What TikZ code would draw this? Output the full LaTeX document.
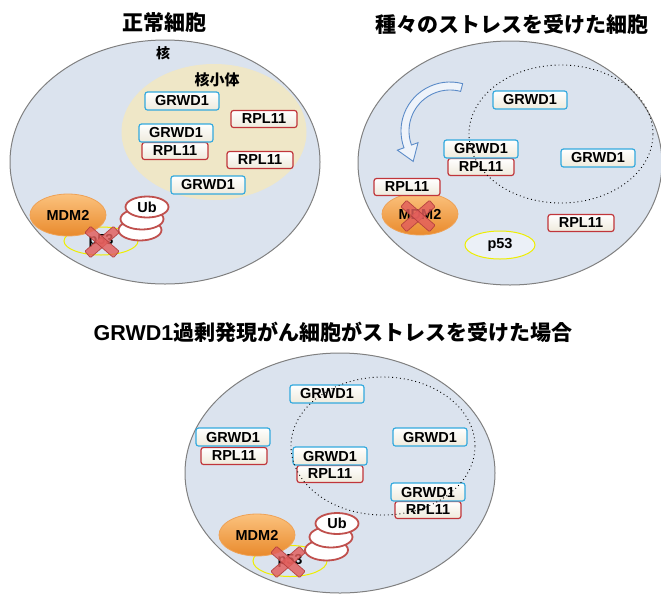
\documentclass[tikz,border=0pt]{standalone}
\usepackage{fontspec}
\setmainfont{Liberation Sans}
\newfontfamily\cjk{Noto Sans CJK JP}
\usetikzlibrary{shapes.geometric,calc}
\definecolor{cellfill}{HTML}{DBE3EE}
\definecolor{cellborder}{HTML}{808080}
\definecolor{nucfill}{HTML}{EFE7C7}
\definecolor{gboxdraw}{HTML}{33A9DE}
\definecolor{rboxdraw}{HTML}{C0353A}
\definecolor{boxbot}{HTML}{EEEADC}
\definecolor{mdmtop}{HTML}{FBC27E}
\definecolor{mdmbot}{HTML}{E98A2C}
\definecolor{mdmdraw}{HTML}{EFA256}
\definecolor{p53draw}{HTML}{EEEE00}
\definecolor{p53fill}{HTML}{EBF0F7}
\definecolor{ubdraw}{HTML}{C0504D}
\definecolor{xfill}{HTML}{E25E5C}
\definecolor{xdraw}{HTML}{B03C3C}
\definecolor{arrowblue}{HTML}{5B8BC8}
\definecolor{arrowfill}{HTML}{EEF3FA}
\begin{document}
\begin{tikzpicture}[x=1pt,y=-1pt,
  bf/.style={font=\fontsize{14.5}{15}\selectfont\bfseries},
  cell/.style={ellipse, draw=cellborder, fill=cellfill, line width=1pt, inner sep=0pt},
  nucl/.style={ellipse, fill=nucfill, draw=none, inner sep=0pt},
  jlbl/.style={font=\fontsize{14}{14}\selectfont\cjk\bfseries, inner sep=0pt},
  gbox/.style={rectangle, rounded corners=2.5pt, draw=gboxdraw, line width=1.2pt,
    top color=white, bottom color=boxbot, minimum width=74pt, minimum height=18pt,
    inner sep=0pt, bf},
  rbox/.style={gbox, draw=rboxdraw, minimum width=66pt, minimum height=17pt},
  mdm/.style={ellipse, top color=mdmtop, bottom color=mdmbot, draw=mdmdraw, line width=0.8pt,
    minimum width=76pt, minimum height=42pt, inner sep=0pt, bf},
  pfs/.style={ellipse, draw=p53draw, line width=1pt, minimum width=74pt, minimum height=28pt,
    inner sep=0pt, bf},
  ub/.style={ellipse, draw=ubdraw, fill=white, line width=1.8pt, minimum width=43pt,
    minimum height=21pt, inner sep=0pt, bf},
  dotell/.style={ellipse, draw=black, line width=0.9pt, dash pattern=on 0.9pt off 3pt,
    minimum width=184pt, minimum height=138pt, inner sep=0pt},
  title/.style={font=\fontsize{21}{24}\selectfont\cjk\bfseries, inner sep=0pt},
  redx/.pic={
    \foreach \a in {41,-41}{
      \filldraw[fill=xfill, draw=xdraw, line width=0.7pt, fill opacity=0.82, draw opacity=0.9,
        rotate=\a, rounded corners=1pt] (-19,-4.3) rectangle (19,4.3);
    }
  }
]
\useasboundingbox (0,0) rectangle (661,595);
\clip (0,0) rectangle (661,595);

% ---------- Panel 1 ----------
\node[title] (t1) at (164,23) {正常細胞};
\node[cell, minimum width=310pt, minimum height=244pt] (c1) at (165,162) {};
\node[nucl, minimum width=185pt, minimum height=136pt] (n1) at (214,132) {};
\node[jlbl] (k1) at (163,53) {核};
\node[jlbl, font=\fontsize{15}{15}\selectfont\cjk\bfseries] (kk1) at (217,80) {核小体};
\node[gbox] (g11) at (182,101) {GRWD1};
\node[rbox] (r11) at (264,119) {RPL11};
\node[rbox] (r12) at (175,151) {RPL11};
\node[gbox] (g12) at (176,133) {GRWD1};
\node[rbox] (r13) at (260,160) {RPL11};
\node[gbox] (g13) at (208,185) {GRWD1};
\node[pfs] (p1) at (101,241) {p53};
\node[mdm] (m1) at (68,215) {MDM2};
\node[ub] (u13) at (140,230) {};
\node[ub] (u12) at (142,219) {};
\node[ub] (u1) at (147,207) {Ub};
\pic at (102,242) {redx};

% ---------- Panel 2 ----------
\node[title] (t2) at (512,24) {種々のストレスを受けた細胞};
\node[cell, minimum width=304pt, minimum height=244pt] (c2) at (510,163) {};
\coordinate (ac) at (450,131);
\filldraw[fill=arrowfill, draw=arrowblue, line width=0.9pt]
  ($(ac)+(-75:49)$) arc[start angle=-75, end angle=-200, radius=49]
  -- ($(ac)+(-200:56)$) -- ($(ac)+(-200:45)+(70:16)$) -- ($(ac)+(-200:34)$)
  -- ($(ac)+(-200:41)$) arc[start angle=-200, end angle=-75, radius=41] -- cycle;
\node[pfs, fill=p53fill, minimum width=70pt] (p2) at (500,245) {p53};
\node[mdm] (m2) at (420,214) {MDM2};
\pic at (418,216) {redx};
\node[rbox] (r21) at (407,187) {RPL11};
\node[gbox] (g21) at (530,100) {GRWD1};
\node[rbox] (r22) at (481,167) {RPL11};
\node[gbox] (g22) at (481,149) {GRWD1};
\node[gbox] (g23) at (598,158) {GRWD1};
\node[rbox] (r23) at (581,223) {RPL11};
\node[dotell] (d2) at (561,134) {};

% ---------- Panel 3 ----------
\node[title] (t3) at (333,332) {{\fontsize{21.5}{24}\selectfont\rmfamily\bfseries GRWD1}過剰発現がん細胞がストレスを受けた場合};
\node[cell, minimum width=310pt, minimum height=240pt] (c3) at (340,473) {};
\node[gbox] (g31) at (327,394) {GRWD1};
\node[rbox] (r31) at (234,456) {RPL11};
\node[gbox] (g32) at (233,437) {GRWD1};
\node[rbox] (r32) at (330,474) {RPL11};
\node[gbox] (g33) at (330,456) {GRWD1};
\node[gbox] (g34) at (430,437) {GRWD1};
\node[rbox] (r33) at (428,510) {RPL11};
\node[gbox] (g35) at (428,492) {GRWD1};
\node[pfs, minimum height=31pt] (p3) at (290,561) {p53};
\node[mdm] (m3) at (257,535) {MDM2};
\node[ub] (u33) at (326.5,550) {};
\node[ub] (u32) at (331,537) {};
\node[ub] (u3) at (337,523.5) {Ub};
\pic at (288,562) {redx};
\node[dotell] (d3) at (383,446) {};
\end{tikzpicture}
\end{document}
